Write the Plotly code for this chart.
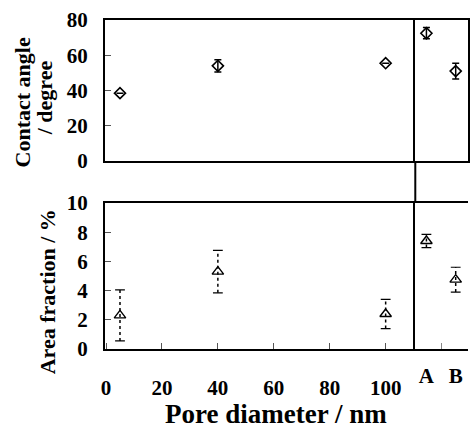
import plotly.graph_objects as go

# ---- data ----
pore_nm = [5, 40, 100]
contact_angle = [38.5, 54, 55.5]
contact_angle_err = [None, 3.5, None]
area_fraction = [2.3, 5.3, 2.4]
area_fraction_err = [1.75, 1.45, 1.0]

samples = ["A", "B"]
contact_angle_s = [72.5, 51]
contact_angle_s_err = [3.2, 4.5]
area_fraction_s = [7.4, 4.75]
area_fraction_s_err = [0.45, 0.85]

x_ticks = [0, 20, 40, 60, 80, 100]
ca_ticks = [0, 20, 40, 60, 80]
af_ticks = [0, 2, 4, 6, 8, 10]

# ---- layout geometry (pixels) ----
W, H = 471, 430
ML, MR, MT, MB = 105, 1, 20, 81
PW = W - ML - MR
PH = H - MT - MB
X_DIV = 417
TOP_BOTTOM = 161
BOT_TOP = 203

def px_x(p):
    return (p - ML) / PW

def px_y(p):
    return (H - MB - p) / PH

xdiv = px_x(X_DIV)
top_dom = [px_y(TOP_BOTTOM), 1]
bot_dom = [0, px_y(BOT_TOP)]

FONT = "Liberation Serif"
tickfont = dict(family=FONT, size=21, color="black", weight="bold")

fig = go.Figure()

diamond = dict(symbol="diamond-open", size=8.5, color="black", line=dict(width=1.6))
triangle = dict(symbol="triangle-up-open", size=10, color="black", line=dict(width=1.4))

# top-left: contact angle vs pore diameter
fig.add_trace(go.Scatter(
    x=pore_nm, y=contact_angle, mode="markers", marker=diamond,
    error_y=dict(type="data", array=contact_angle_err, color="black", thickness=1.5, width=3.5),
    xaxis="x3", yaxis="y3", showlegend=False))
# top-right: contact angle A, B
fig.add_trace(go.Scatter(
    x=samples, y=contact_angle_s, mode="markers", marker=diamond,
    error_y=dict(type="data", array=contact_angle_s_err, color="black", thickness=1.5, width=3.5),
    xaxis="x4", yaxis="y4", showlegend=False))

def dotted_bars(xs, vals, errs, xa, ya):
    lx, ly, cx, cy = [], [], [], []
    for x, v, e in zip(xs, vals, errs):
        lx += [x, x, None]
        ly += [v - e, v + e, None]
        cx += [x, x]
        cy += [v - e, v + e]
    fig.add_trace(go.Scatter(x=lx, y=ly, mode="lines",
                             line=dict(color="black", width=1.5, dash="dot"),
                             xaxis=xa, yaxis=ya, showlegend=False, hoverinfo="skip"))
    fig.add_trace(go.Scatter(x=cx, y=cy, mode="markers",
                             marker=dict(symbol="line-ew-open", size=7, color="black",
                                         line=dict(width=1.2, color="black")),
                             xaxis=xa, yaxis=ya, showlegend=False, hoverinfo="skip"))

dotted_bars(pore_nm, area_fraction, area_fraction_err, "x", "y")
dotted_bars(samples, area_fraction_s, area_fraction_s_err, "x2", "y2")

fig.add_trace(go.Scatter(x=pore_nm, y=area_fraction, mode="markers", marker=triangle,
                         xaxis="x", yaxis="y", showlegend=False))
fig.add_trace(go.Scatter(x=samples, y=area_fraction_s, mode="markers", marker=triangle,
                         xaxis="x2", yaxis="y2", showlegend=False))

xrange_nm = [-0.36, 110.6]
xrange_cat = [-0.38, 1.42]
line_kw = dict(showline=True, linecolor="black", linewidth=2, showgrid=False, zeroline=False)

fig.update_layout(
    width=W, height=H,
    margin=dict(l=ML, r=MR, t=MT, b=MB),
    paper_bgcolor="white", plot_bgcolor="white",
    font=dict(family=FONT, color="black"),
    # bottom-left
    xaxis=dict(domain=[0, xdiv], anchor="y", range=xrange_nm, tickvals=x_ticks,
               ticks="inside", ticklen=6, tickwidth=1, tickcolor="#555",
               tickfont=tickfont, ticklabelstandoff=19, mirror=True, **line_kw),
    yaxis=dict(domain=bot_dom, anchor="x", range=[0, 10], tickvals=af_ticks,
               ticks="inside", ticklen=6, tickwidth=1, tickcolor="#555",
               tickfont=tickfont, ticklabelstandoff=11, mirror=False, **line_kw),
    # bottom-right
    xaxis2=dict(domain=[xdiv, 1], anchor="y2", type="category", categoryarray=samples,
                range=xrange_cat, tickson="boundaries", ticks="inside", ticklen=6,
                tickwidth=1, tickcolor="#888", tickfont=tickfont, ticklabelstandoff=7,
                mirror=True, **line_kw),
    yaxis2=dict(domain=bot_dom, anchor="x2", range=[0, 10], showticklabels=False,
                ticks="", mirror=False, **line_kw),
    # top-left
    xaxis3=dict(domain=[0, xdiv], anchor="y3", range=xrange_nm, showticklabels=False,
                ticks="", mirror=True, **line_kw),
    yaxis3=dict(domain=top_dom, anchor="x3", range=[0, 80], tickvals=ca_ticks,
                ticks="inside", ticklen=6, tickwidth=1, tickcolor="#555",
                tickfont=tickfont, ticklabelstandoff=11, mirror=False, **line_kw),
    # top-right
    xaxis4=dict(domain=[xdiv, 1], anchor="y4", type="category", categoryarray=samples,
                range=xrange_cat, showticklabels=False, ticks="", mirror=True, **line_kw),
    yaxis4=dict(domain=top_dom, anchor="x4", range=[0, 80], showticklabels=False,
                ticks="", mirror=True, **line_kw),
)

# divider line between the two panels
fig.add_shape(type="line", xref="paper", yref="paper", x0=xdiv, x1=xdiv,
              y0=bot_dom[1], y1=top_dom[0], line=dict(color="black", width=2))

tfont = dict(family=FONT, size=22, color="black", weight="bold")
fig.add_annotation(text="Contact angle", textangle=-90, xref="paper", yref="paper",
                   x=px_x(22), y=px_y(102), showarrow=False, font=tfont,
                   xanchor="center", yanchor="middle")
fig.add_annotation(text="/ degree", textangle=-90, xref="paper", yref="paper",
                   x=px_x(45), y=px_y(98), showarrow=False, font=tfont,
                   xanchor="center", yanchor="middle")
fig.add_annotation(text="Area fraction / %", textangle=-90, xref="paper", yref="paper",
                   x=px_x(47), y=px_y(292), showarrow=False, font=tfont,
                   xanchor="center", yanchor="middle")
fig.add_annotation(text="Pore diameter / nm", xref="paper", yref="paper",
                   x=px_x(276.5), y=px_y(414), showarrow=False,
                   font=dict(family=FONT, size=27, color="black", weight="bold"),
                   xanchor="center", yanchor="middle")

fig.write_html("out.html", config={"displayModeBar": False},
               post_script="document.body.style.margin='0';document.body.style.overflow='hidden';")
